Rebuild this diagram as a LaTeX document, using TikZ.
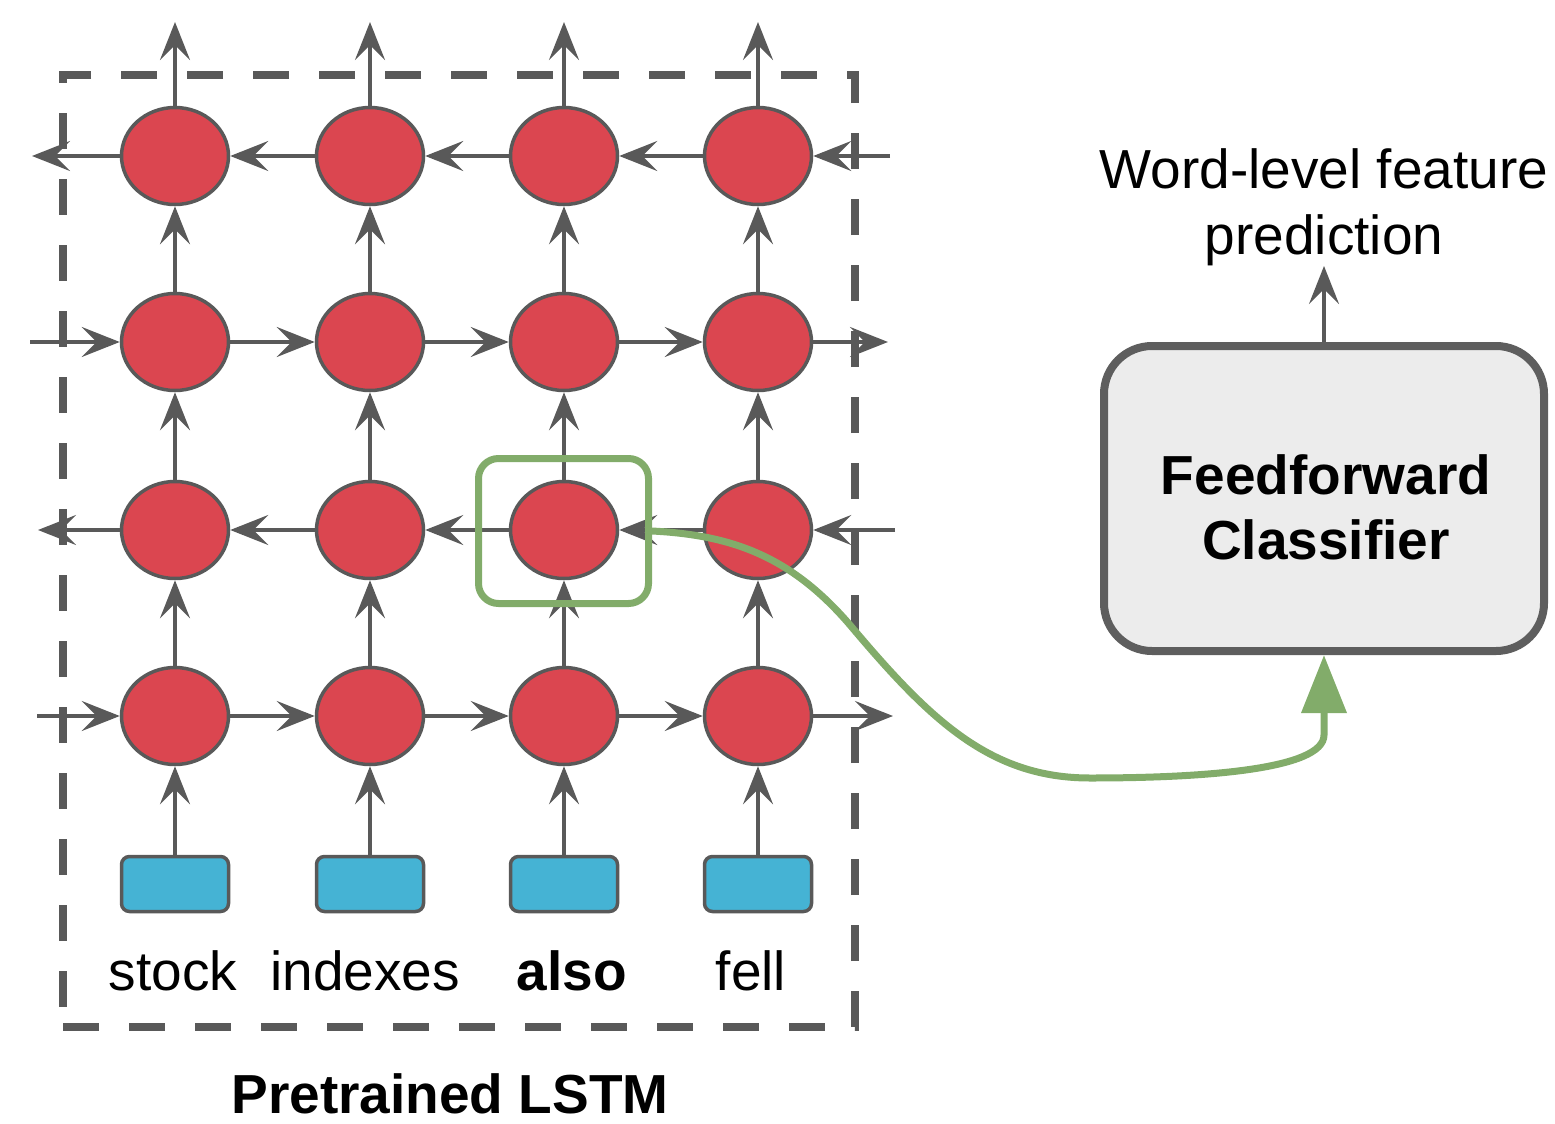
\documentclass[tikz,border=0pt]{standalone}
\usepackage{fontspec}
\setmainfont{Liberation Sans}
\usetikzlibrary{shapes.geometric,arrows.meta}
\definecolor{lg}{HTML}{595959}
\definecolor{cred}{HTML}{DB4650}
\definecolor{cblue}{HTML}{45B3D4}
\definecolor{cgreen}{HTML}{82AC6A}
\definecolor{cbox}{HTML}{ECECEC}
\definecolor{cbord}{HTML}{5E5E5E}
\begin{document}
\begin{tikzpicture}[x=1pt,y=-1pt,
  cell/.style={ellipse,draw=lg,fill=cred,line width=3.5pt,minimum width=107pt,minimum height=97pt,inner sep=0pt},
  inp/.style={rectangle,rounded corners=8pt,draw=lg,fill=cblue,line width=3.5pt,minimum width=107pt,minimum height=55pt,inner sep=0pt},
  gar/.style={draw=lg,line width=3.5pt,-{Stealth[length=38pt,width=30pt,inset=15pt]}},
  word/.style={font=\fontsize{55}{66}\selectfont,anchor=base,inner sep=0pt},
  bigtxt/.style={font=\fontsize{55}{66}\selectfont,align=center,inner sep=0pt}]
\useasboundingbox (0,0) rectangle (1555,1124);

% dashed LSTM frame
\node[draw=lg,line width=8pt,dash pattern=on 36pt off 30pt,minimum width=792pt,minimum height=952pt,inner sep=0pt] (lstm) at (459,551) {};

% cells and inputs
\foreach \i/\x in {1/175,2/370,3/564,4/758}{
  \foreach \j/\y in {1/156,2/342,3/530,4/716}{
    \node[cell] (c\i\j) at (\x,\y) {};
  }
  \node[inp] (in\i) at (\x,884) {};
  \coordinate (top\i) at (\x,22);
}

% words
\node[word] (w1) at (173,990) {stock};
\node[word] (w2) at (365,990) {indexes};
\node[word,font=\bfseries\fontsize{55}{66}\selectfont] (w3) at (572,990) {also};
\node[word] (w4) at (751,990) {fell};
\node[word,font=\bfseries\fontsize{55}{66}\selectfont] (lbl) at (450,1113) {Pretrained LSTM};

% free ends of horizontal chains
\coordinate (l1) at (32,156);  \coordinate (r1) at (890,156);
\coordinate (l2) at (30,342);  \coordinate (r2) at (888,342);
\coordinate (l3) at (38,530);  \coordinate (r3) at (895,530);
\coordinate (l4) at (37,716);  \coordinate (r4) at (893,716);

% vertical arrows
\foreach \i in {1,2,3,4}{
  \draw[gar] (in\i) -- (c\i4);
  \draw[gar] (c\i4) -- (c\i3);
  \draw[gar] (c\i3) -- (c\i2);
  \draw[gar] (c\i2) -- (c\i1);
  \draw[gar] (c\i1) -- (top\i);
}

% row 1 (leftward)
\draw[gar] (r1) -- (c41);
\draw[gar] (c41) -- (c31);
\draw[gar] (c31) -- (c21);
\draw[gar] (c21) -- (c11);
\draw[gar] (c11) -- (l1);
% row 2 (rightward)
\draw[gar] (l2) -- (c12);
\draw[gar] (c12) -- (c22);
\draw[gar] (c22) -- (c32);
\draw[gar] (c32) -- (c42);
\draw[gar] (c42) -- (r2);
% row 3 (leftward)
\draw[gar] (r3) -- (c43);
\draw[gar] (c43) -- (c33);
\draw[gar] (c33) -- (c23);
\draw[gar] (c23) -- (c13);
\draw[gar] (c13) -- (l3);
% row 4 (rightward)
\draw[gar] (l4) -- (c14);
\draw[gar] (c14) -- (c24);
\draw[gar] (c24) -- (c34);
\draw[gar] (c34) -- (c44);
\draw[gar] (c44) -- (r4);

% classifier
\node[draw=cbord,fill=cbox,line width=8pt,rounded corners=48pt,minimum width=440pt,minimum height=305pt,inner sep=0pt] (clf) at (1324,498.5) {};
\node[bigtxt,font=\bfseries\fontsize{55}{65}\selectfont] (clft) at (1326,507.5) {Feedforward\\Classifier};
\node[bigtxt,anchor=south] (wl) at (1324,266) {Word-level feature\\prediction};
\draw[gar] (clf.north) -- (wl.south);

% selection and green connector
\node[draw=cgreen,line width=7pt,rounded corners=20pt,minimum width=170pt,minimum height=145pt,inner sep=0pt] (sel) at (563.5,531) {};
\draw[cgreen,line width=7pt,-{Triangle[length=58pt,width=44pt]}]
  (sel.east) .. controls (730,535) and (790,555) .. (850,625)
  .. controls (930,720) and (990,778) .. (1090,778)
  .. controls (1200,778) and (1324,770) .. (1324,735) -- (clf.south);
\end{tikzpicture}
\end{document}
